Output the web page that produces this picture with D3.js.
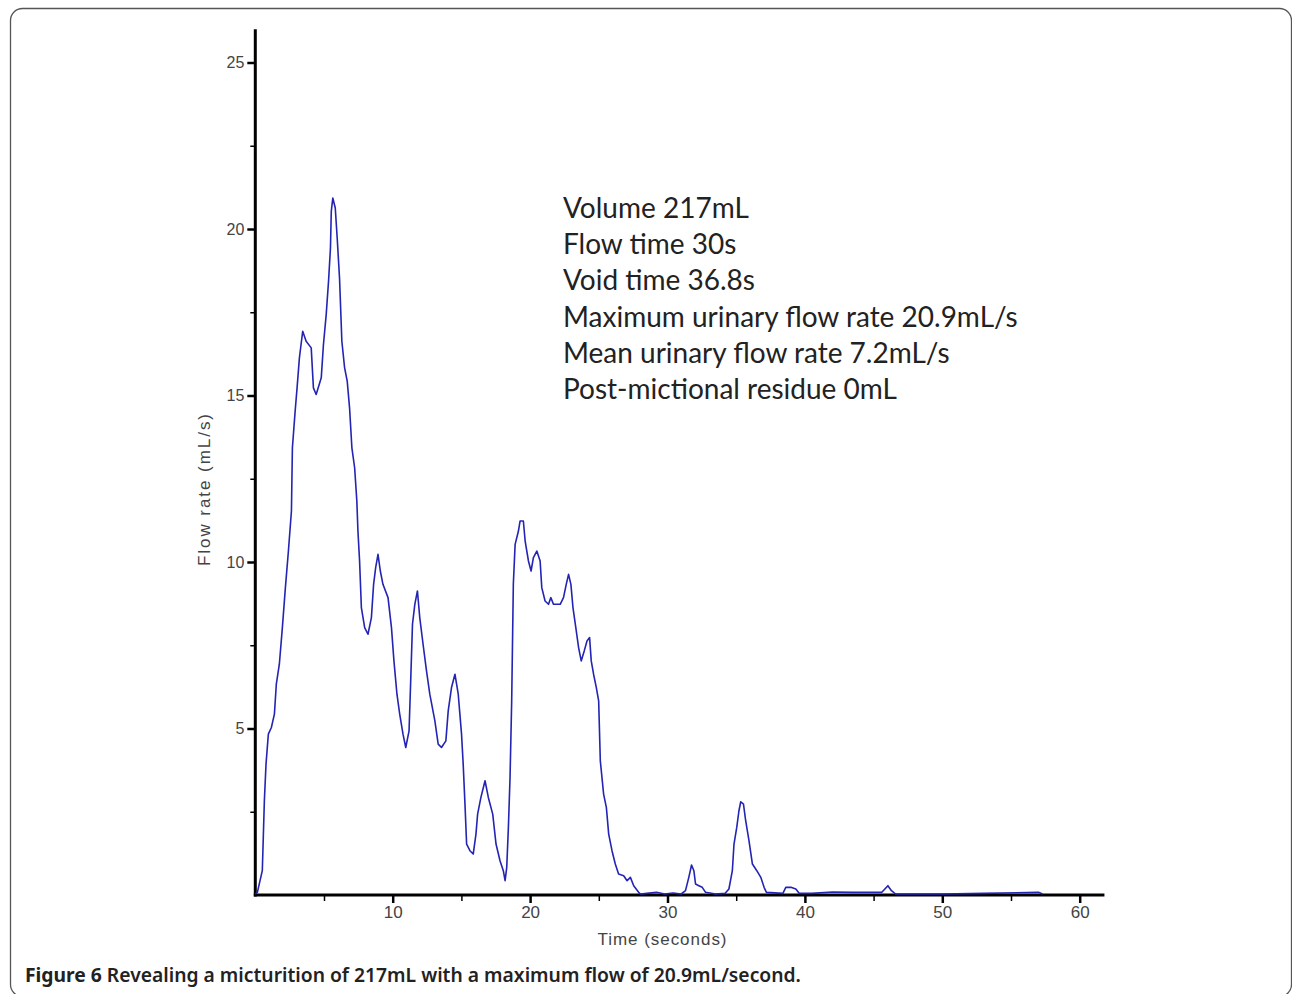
<!DOCTYPE html>
<html lang="en">
<head>
<meta charset="UTF-8">
<title>Micturition flow curve</title>
<script src="https://d3js.org/d3.v7.min.js"></script>
<style>
  body {margin:0; background:#fff;}
  .tick text {font-family:"Liberation Sans", Arial, sans-serif; fill:#444;}
</style>
</head>
<body>
<div id="chart"></div>
<script>
// flow curve: time (s) and flow rate (mL/s)
var times = [0,0.15,0.51,0.66,0.78,0.95,1.17,1.39,1.53,1.75,1.97,2.19,2.41,2.63,2.70,2.90,3.04,3.21,3.45,3.70,
  4.07,4.23,4.43,4.80,4.96,5.16,5.33,5.47,5.53,5.64,5.82,5.96,6.13,6.30,6.50,6.69,6.86,7.03,7.23,7.39,
  7.47,7.59,7.72,7.96,8.20,8.45,8.61,8.76,8.93,9.10,9.29,9.66,9.91,10.09,10.31,10.51,10.75,10.95,11.19,11.31,
  11.44,11.61,11.80,11.97,12.21,12.46,12.70,13.07,13.31,13.55,13.87,14.04,14.28,14.53,14.77,15.01,15.13,15.26,15.38,15.62,
  15.86,16.06,16.18,16.42,16.72,16.96,17.28,17.52,17.81,18.05,18.18,18.30,18.42,18.54,18.66,18.78,18.91,19.15,19.27,19.51,
  19.64,19.88,20.07,20.24,20.49,20.73,20.85,21.09,21.34,21.51,21.70,22.19,22.43,22.63,22.80,22.97,23.12,23.36,23.53,23.72,
  23.94,24.14,24.33,24.45,24.62,24.82,24.99,25.11,25.35,25.55,25.72,25.96,26.20,26.44,26.81,27.06,27.30,27.54,27.90,28.03,
  28.5,29.2,29.8,30.4,31.0,31.31,31.55,31.75,31.92,32.04,32.28,32.53,32.77,33.5,34.2,34.47,34.72,34.84,35.04,35.20,
  35.33,35.53,35.69,35.93,36.18,36.50,36.79,37.03,37.20,38.4,38.61,38.98,39.34,39.58,40.5,42.0,43.5,45.6,46.04,46.3,
  46.6,50.0,53.0,57.0,57.3];
var flows = [0,0.05,0.7,2.8,3.9,4.8,5.0,5.4,6.3,6.9,8.0,9.2,10.3,11.5,13.4,14.5,15.2,16.1,16.9,16.6,
  16.4,15.2,15.0,15.5,16.5,17.4,18.4,19.4,20.5,20.9,20.6,19.7,18.5,16.6,15.8,15.4,14.6,13.4,12.8,11.8,
  10.9,10.0,8.6,8.0,7.8,8.3,9.3,9.8,10.2,9.7,9.3,8.9,8.0,7.0,6.0,5.4,4.8,4.4,4.9,6.4,
  8.1,8.7,9.1,8.3,7.5,6.7,6.0,5.2,4.5,4.4,4.6,5.5,6.2,6.6,6.0,4.8,3.9,2.7,1.5,1.3,
  1.2,1.8,2.4,2.9,3.4,2.9,2.4,1.5,1.0,0.7,0.4,0.8,2.0,3.5,5.8,9.3,10.5,10.9,11.2,11.2,
  10.6,10.0,9.7,10.1,10.3,10.0,9.2,8.8,8.7,8.9,8.7,8.7,8.9,9.3,9.6,9.3,8.6,7.9,7.4,7.0,
  7.3,7.6,7.7,7.0,6.6,6.2,5.8,4.0,3.0,2.6,1.8,1.3,0.9,0.6,0.55,0.4,0.5,0.25,0.05,0,
  0.02,0.05,0,0.03,0,0.1,0.5,0.87,0.7,0.3,0.25,0.2,0.05,0,0.02,0.15,0.7,1.5,2.0,2.5,
  2.77,2.7,2.2,1.6,0.9,0.7,0.5,0.2,0.05,0.02,0.2,0.2,0.15,0.02,0.02,0.06,0.05,0.05,0.25,0.1,
  0,0,0.02,0.05,0];

var xTicks = [10, 20, 30, 40, 50, 60];
var xMinor = [5, 15, 25, 35, 45, 55];
var yTicks = [5, 10, 15, 20, 25];
var yMinor = [2.5, 7.5, 12.5, 17.5, 22.5];

var notes = ["Volume 217mL", "Flow time 30s", "Void time 36.8s",
  "Maximum urinary flow rate 20.9mL/s", "Mean urinary flow rate 7.2mL/s", "Post-mictional residue 0mL"];
var capBold = "Figure 6";
var capText = " Revealing a micturition of 217mL with a maximum flow of 20.9mL/second.";

var W = 1292, H = 994;

var svg = d3.select("#chart").append("svg")
    .attr("width", W)
    .attr("height", H);

// outer figure frame
svg.append("rect")
    .attr("x", 10.5).attr("y", 8.5)
    .attr("width", 1281).attr("height", 988)
    .attr("rx", 12).attr("ry", 12)
    .attr("fill", "none")
    .attr("stroke", "#555")
    .attr("stroke-width", 1.3);

var x = d3.scaleLinear().domain([0, 60]).range([255.3, 1079.7]);
var y = d3.scaleLinear().domain([0, 25]).range([895, 62.5]);

// y axis
svg.append("g")
    .attr("transform", "translate(" + x(0) + ",0)")
    .call(d3.axisLeft(y).tickValues(yMinor).tickSize(5).tickFormat(""))
    .call(function(g) {g.select(".domain").remove();})
    .selectAll("line").attr("stroke", "#000").attr("stroke-width", 1.5);

var yAx = svg.append("g")
    .attr("transform", "translate(" + x(0) + ",0)")
    .call(d3.axisLeft(y).tickValues(yTicks).tickSize(8).tickPadding(3));
yAx.select(".domain").remove();
yAx.selectAll("line").attr("stroke", "#000").attr("stroke-width", 2.5);
yAx.selectAll("text").attr("font-size", "16px");

// x axis
svg.append("g")
    .attr("transform", "translate(0," + y(0) + ")")
    .call(d3.axisBottom(x).tickValues(xMinor).tickSize(6).tickFormat(""))
    .call(function(g) {g.select(".domain").remove();})
    .selectAll("line").attr("stroke", "#000").attr("stroke-width", 1.5);

var xAx = svg.append("g")
    .attr("transform", "translate(0," + y(0) + ")")
    .call(d3.axisBottom(x).tickValues(xTicks).tickSize(8).tickPadding(3));
xAx.select(".domain").remove();
xAx.selectAll("line").attr("stroke", "#000").attr("stroke-width", 2.5);
xAx.selectAll("text").attr("font-size", "17px");

// axis lines
svg.append("line")
    .attr("x1", x(0)).attr("x2", x(0))
    .attr("y1", y(0) + 1.5).attr("y2", y(26))
    .attr("stroke", "#000").attr("stroke-width", 3);
svg.append("line")
    .attr("x1", x(0) - 1.5).attr("x2", x(61.8))
    .attr("y1", y(0)).attr("y2", y(0))
    .attr("stroke", "#000").attr("stroke-width", 3);

// flow curve
var pts = times.map(function(t, i) {return [t, flows[i]];});
var line = d3.line()
    .x(function(d) {return x(d[0]);})
    .y(function(d) {return y(d[1]) - 1;});

svg.append("path")
    .datum(pts)
    .attr("d", line)
    .attr("fill", "none")
    .attr("stroke", "#2424b4")
    .attr("stroke-width", 1.6)
    .attr("stroke-linejoin", "round");

// axis titles
svg.append("text")
    .attr("x", 662)
    .attr("y", 945)
    .attr("text-anchor", "middle")
    .attr("font-family", "Liberation Sans, Arial, sans-serif")
    .attr("font-size", "17px")
    .attr("textLength", 129)
    .attr("lengthAdjust", "spacing")
    .attr("fill", "#444")
    .text("Time (seconds)");

svg.append("text")
    .attr("transform", "translate(210,490) rotate(-90)")
    .attr("text-anchor", "middle")
    .attr("font-family", "Liberation Sans, Arial, sans-serif")
    .attr("font-size", "17px")
    .attr("textLength", 152)
    .attr("lengthAdjust", "spacing")
    .attr("fill", "#444")
    .text("Flow rate (mL/s)");

// summary text block
svg.selectAll(".note").data(notes).enter().append("text")
    .attr("class", "note")
    .attr("x", 563)
    .attr("y", function(d, i) {return 218 + i * 36.2;})
    .attr("font-family", "Lato, sans-serif")
    .attr("font-size", "28px")
    .attr("fill", "#222")
    .text(function(d) {return d;});

// caption
var cap = svg.append("text")
    .attr("x", 25)
    .attr("y", 982)
    .attr("font-family", "Noto Sans, sans-serif")
    .attr("font-size", "19.3px")
    .attr("font-weight", "bold")
    .attr("fill", "#222");
cap.append("tspan").text(capBold);
cap.append("tspan").attr("font-weight", "600").text(capText);
</script>
</body>
</html>
